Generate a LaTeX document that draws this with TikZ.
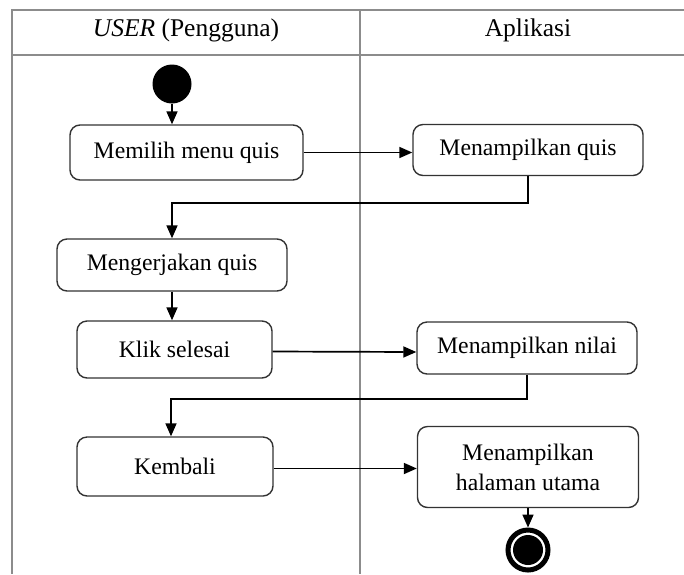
\documentclass[tikz,border=0pt]{standalone}
\usepackage{fontspec}
\setmainfont{Liberation Serif}
\usetikzlibrary{arrows.meta}
\begin{document}
\begin{tikzpicture}[x=1pt,y=-1pt,
  grid/.style={draw=black!45,line width=1.8pt},
  actbox/.style={draw=black!80,line width=1.4pt,rounded corners=10pt,fill=white,
    font=\fontsize{23.7}{28}\selectfont,align=center,inner sep=0pt},
  arr/.style={draw=black,line width=1.7pt,-{Triangle[length=13pt,width=11pt]}},
  hdr/.style={font=\fontsize{25.5}{30}\selectfont}]
\useasboundingbox (0,0) rectangle (684,574);
% swimlane table
\draw[grid] (11,10) -- (684,10);
\draw[grid] (11,55) -- (684,55);
\draw[grid] (12,10) -- (12,574);
\draw[grid] (360,10) -- (360,574);
\node[hdr] (h1) at (186,30) {\textit{USER} (Pengguna)};
\node[hdr] (h2) at (528,30) {Aplikasi};
% start
\node[circle,fill=black,minimum size=39pt,inner sep=0pt] (start) at (172,84) {};
% activities
\node[actbox,minimum width=233pt,minimum height=55pt] (b1) at (186.5,152.5) {Memilih menu quis};
\node[actbox,minimum width=230pt,minimum height=51pt] (b2) at (528,150) {Menampilkan quis};
\node[actbox,minimum width=230pt,minimum height=52pt] (b3) at (172,265) {Mengerjakan quis};
\node[actbox,minimum width=195pt,minimum height=57pt] (b4) at (174.5,349.5) {Klik selesai};
\node[actbox,minimum width=220pt,minimum height=52pt] (b5) at (527,348) {Menampilkan nilai};
\node[actbox,minimum width=196pt,minimum height=59pt] (b6) at (175,466.5) {Kembali};
\node[actbox,minimum width=221pt,minimum height=81pt] (b7) at (528,467) {Menampilkan\\[2pt]halaman utama};
% end
\node[circle,draw=black,line width=5pt,fill=white,minimum size=40pt,inner sep=0pt] (end) at (528,550) {};
\fill[black] (end.center) circle (15pt);
% bend points
\coordinate (k1) at (172,203);
\coordinate (k2) at (171,399);
% connectors
\draw[arr] (start) -- (start |- b1.north);
\draw[arr] (b1.east) -- (b1.east -| b2.west);
\draw[arr] (b2.south) |- (k1) -- (k1 |- b3.north);
\draw[arr] (b3.south) -- (b3.south |- b4.north);
\draw[arr] (b4.east) ++(0,2) -- (b5.west |- 0,352);
\draw[arr] (b5.south) |- (k2) -- (k2 |- b6.north);
\draw[arr] (b6.east) ++(0,2) -- (b7.west |- 0,468.5);
\draw[arr] (b7.south) -- (end.north);
\end{tikzpicture}
\end{document}
